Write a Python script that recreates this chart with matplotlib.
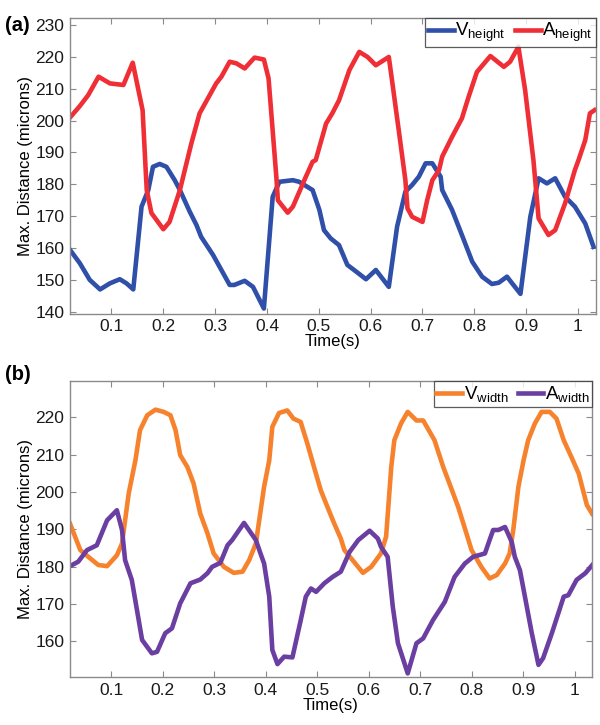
import matplotlib
matplotlib.use("Agg")
import matplotlib.pyplot as plt

plt.rcParams['font.family'] = ['Liberation Sans', 'DejaVu Sans']
plt.rcParams['mathtext.fontset'] = 'custom'
plt.rcParams['mathtext.rm'] = 'Liberation Sans'

# (a) height, values
t_v_height = [0.02, 0.039, 0.058, 0.078, 0.097, 0.116, 0.129, 0.142, 0.158, 0.171, 0.180, 0.193,
              0.206, 0.222, 0.232, 0.251, 0.264, 0.273, 0.296, 0.312, 0.328, 0.337, 0.357, 0.373,
              0.394, 0.411, 0.424, 0.450, 0.462, 0.488, 0.501, 0.510, 0.523, 0.539, 0.555, 0.572,
              0.591, 0.610, 0.635, 0.651, 0.667, 0.680, 0.693, 0.706, 0.719, 0.735, 0.738, 0.757,
              0.776, 0.796, 0.815, 0.834, 0.847, 0.863, 0.873, 0.889, 0.908, 0.924, 0.940, 0.956,
              0.975, 0.994, 1.014, 1.030]
v_height = [159.4, 155.2, 150.0, 147.0, 148.9, 150.2, 148.9, 147.0, 173.0, 178.2, 185.5, 186.4,
            185.5, 181.3, 178.2, 171.4, 167.2, 163.5, 157.8, 153.1, 148.4, 148.4, 149.7, 147.8,
            141.0, 176.1, 180.8, 181.3, 180.8, 178.2, 172.0, 165.6, 163.0, 160.9, 154.7, 152.6,
            150.2, 153.1, 147.8, 166.7, 177.7, 179.8, 182.4, 186.6, 186.6, 182.4, 178.2, 172.0,
            164.1, 155.7, 151.0, 148.7, 149.1, 151.0, 148.9, 145.6, 169.8, 181.9, 180.3, 181.9,
            176.1, 173.0, 167.7, 160.4]

t_a_height = [0.02, 0.039, 0.055, 0.075, 0.097, 0.123, 0.141, 0.160, 0.168, 0.177, 0.200, 0.212,
              0.232, 0.254, 0.270, 0.286, 0.302, 0.312, 0.328, 0.341, 0.357, 0.376, 0.394, 0.403,
              0.418, 0.421, 0.440, 0.450, 0.475, 0.488, 0.494, 0.514, 0.526, 0.539, 0.559, 0.578,
              0.594, 0.610, 0.635, 0.642, 0.655, 0.667, 0.671, 0.680, 0.700, 0.709, 0.719, 0.732,
              0.738, 0.757, 0.776, 0.789, 0.805, 0.831, 0.857, 0.869, 0.885, 0.898, 0.914, 0.924,
              0.943, 0.956, 0.975, 0.994, 1.001, 1.014, 1.023, 1.032]
a_height = [201.0, 204.6, 208.0, 213.8, 211.7, 211.2, 218.2, 203.3, 178.2, 171.0, 165.9, 168.2,
            178.2, 192.8, 202.3, 207.0, 211.7, 213.8, 218.5, 218.0, 216.4, 219.8, 219.2, 213.3,
            182.4, 175.0, 171.1, 173.0, 182.4, 187.1, 187.6, 199.1, 202.3, 206.4, 215.9, 221.6,
            220.0, 217.4, 220.0, 211.7, 196.0, 181.3, 172.5, 169.8, 168.2, 175.0, 181.3, 184.5,
            188.7, 194.9, 200.7, 207.5, 215.3, 220.3, 216.9, 218.5, 223.2, 209.6, 187.6, 169.3,
            164.1, 165.6, 174.0, 184.5, 187.6, 193.9, 202.3, 203.3]

# (b) width
t_v_width = [0.020, 0.040, 0.059, 0.075, 0.092, 0.111, 0.121, 0.134, 0.147, 0.156, 0.170, 0.186,
             0.202, 0.215, 0.225, 0.234, 0.248, 0.260, 0.273, 0.287, 0.299, 0.319, 0.338, 0.355,
             0.368, 0.381, 0.397, 0.407, 0.413, 0.426, 0.442, 0.454, 0.468, 0.481, 0.494, 0.507,
             0.520, 0.533, 0.546, 0.553, 0.566, 0.589, 0.605, 0.624, 0.634, 0.644, 0.650, 0.663,
             0.676, 0.693, 0.706, 0.728, 0.745, 0.757, 0.774, 0.790, 0.800, 0.819, 0.835, 0.849,
             0.865, 0.874, 0.881, 0.891, 0.901, 0.910, 0.923, 0.936, 0.952, 0.965, 0.979, 0.991,
             1.008, 1.024, 1.034]
v_width = [191.5, 184.4, 182.2, 180.4, 180.1, 183.0, 186.2, 199.6, 208.5, 216.6, 220.6, 222.1,
           221.5, 220.6, 216.6, 209.9, 206.7, 202.3, 194.2, 188.9, 183.5, 179.9, 178.3, 178.6,
           181.7, 186.2, 201.4, 208.5, 217.5, 221.2, 221.9, 219.7, 218.8, 213.0, 206.7, 200.5,
           196.0, 191.6, 187.5, 184.4, 182.2, 178.3, 179.9, 183.5, 188.0, 206.7, 213.9, 218.4,
           221.5, 219.2, 219.2, 213.9, 206.7, 202.3, 196.0, 188.9, 184.4, 179.9, 176.8, 177.7,
           180.8, 183.5, 189.8, 201.4, 208.5, 213.9, 218.4, 221.5, 221.5, 219.7, 213.9, 210.3,
           205.0, 196.5, 194.2]

t_a_width = [0.020, 0.036, 0.053, 0.072, 0.092, 0.111, 0.121, 0.127, 0.140, 0.160, 0.179, 0.189,
             0.205, 0.218, 0.234, 0.254, 0.273, 0.287, 0.296, 0.312, 0.326, 0.335, 0.358, 0.381,
             0.390, 0.397, 0.407, 0.413, 0.423, 0.436, 0.452, 0.468, 0.478, 0.488, 0.498, 0.514,
             0.530, 0.546, 0.563, 0.580, 0.602, 0.618, 0.624, 0.637, 0.647, 0.657, 0.676, 0.693,
             0.706, 0.725, 0.748, 0.767, 0.787, 0.803, 0.826, 0.835, 0.842, 0.852, 0.865, 0.878,
             0.884, 0.894, 0.917, 0.930, 0.939, 0.956, 0.979, 0.988, 1.004, 1.021, 1.037]
a_width = [180.1, 181.3, 184.4, 185.7, 192.4, 195.1, 189.8, 181.7, 176.4, 160.3, 156.7, 157.1,
           162.1, 163.4, 170.1, 175.5, 176.5, 178.2, 179.9, 181.0, 185.7, 187.1, 191.7, 187.1,
           183.5, 180.8, 171.9, 157.6, 153.8, 155.8, 155.6, 165.5, 171.9, 174.1, 173.2, 175.5,
           177.2, 178.6, 183.9, 187.1, 189.6, 187.5, 185.3, 182.6, 169.2, 159.4, 151.3, 159.4,
           160.7, 165.6, 170.5, 177.2, 180.8, 182.6, 183.5, 187.1, 189.8, 189.8, 190.6, 186.6,
           182.6, 179.0, 162.1, 153.6, 155.4, 162.1, 171.9, 172.3, 176.4, 178.2, 180.8]

x_ticks = [0.1, 0.2, 0.3, 0.4, 0.5, 0.6, 0.7, 0.8, 0.9, 1.0]
x_ticklabels = ['0.1', '0.2', '0.3', '0.4', '0.5', '0.6', '0.7', '0.8', '0.9', '1']

fig = plt.figure(figsize=(6, 7.25), dpi=100)
ax1 = fig.add_axes([0.1167, 0.567, 0.876, 0.408])
ax2 = fig.add_axes([0.1167, 0.066, 0.870, 0.408])


def style(ax):
    for s in ax.spines.values():
        s.set_color('#8a8a8a')
        s.set_linewidth(1.0)
    ax.tick_params(direction='in', top=True, right=True, length=4, width=0.8,
                   color='#8a8a8a', labelsize=12.5, labelcolor='#1a1a1a', pad=4)
    ax.set_xticks(x_ticks)
    ax.set_xticklabels(x_ticklabels)
    ax.set_xlim(0.02, 1.034)
    ax.set_xlabel('Time(s)', fontsize=12, labelpad=0)
    ax.set_ylabel('Max. Distance (microns)', fontsize=12, labelpad=2)
    # MATLAB-like boxed legend in the top right corner
    leg = ax.legend(loc='upper right', ncol=2, fontsize=13.5, frameon=True, fancybox=False,
                    borderpad=0.15, handlelength=1.35, handletextpad=0.1, columnspacing=0.5,
                    borderaxespad=0.0)
    leg.get_frame().set_edgecolor('#333333')
    leg.get_frame().set_linewidth(0.9)


ax1.plot(t_v_height, v_height, color='#2f4fa8', lw=3.3, label=r'$\mathregular{V_{height}}$')
ax1.plot(t_a_height, a_height, color='#ef2f35', lw=3.3, label=r'$\mathregular{A_{height}}$')
style(ax1)
ax1.set_ylim(139.3, 232.2)
ax1.set_yticks(range(140, 231, 10))

ax2.plot(t_v_width, v_width, color='#f7822d', lw=3.3, label=r'$\mathregular{V_{width}}$')
ax2.plot(t_a_width, a_width, color='#6b3fa2', lw=3.3, label=r'$\mathregular{A_{width}}$')
style(ax2)
ax2.set_ylim(150.3, 229.7)
ax2.set_yticks(range(160, 221, 10))

fig.text(0.008, 0.978, '(a)', fontsize=14.5, fontweight='bold', va='top')
fig.text(0.008, 0.497, '(b)', fontsize=14.5, fontweight='bold', va='top')

fig.savefig('out.png', dpi=100)
